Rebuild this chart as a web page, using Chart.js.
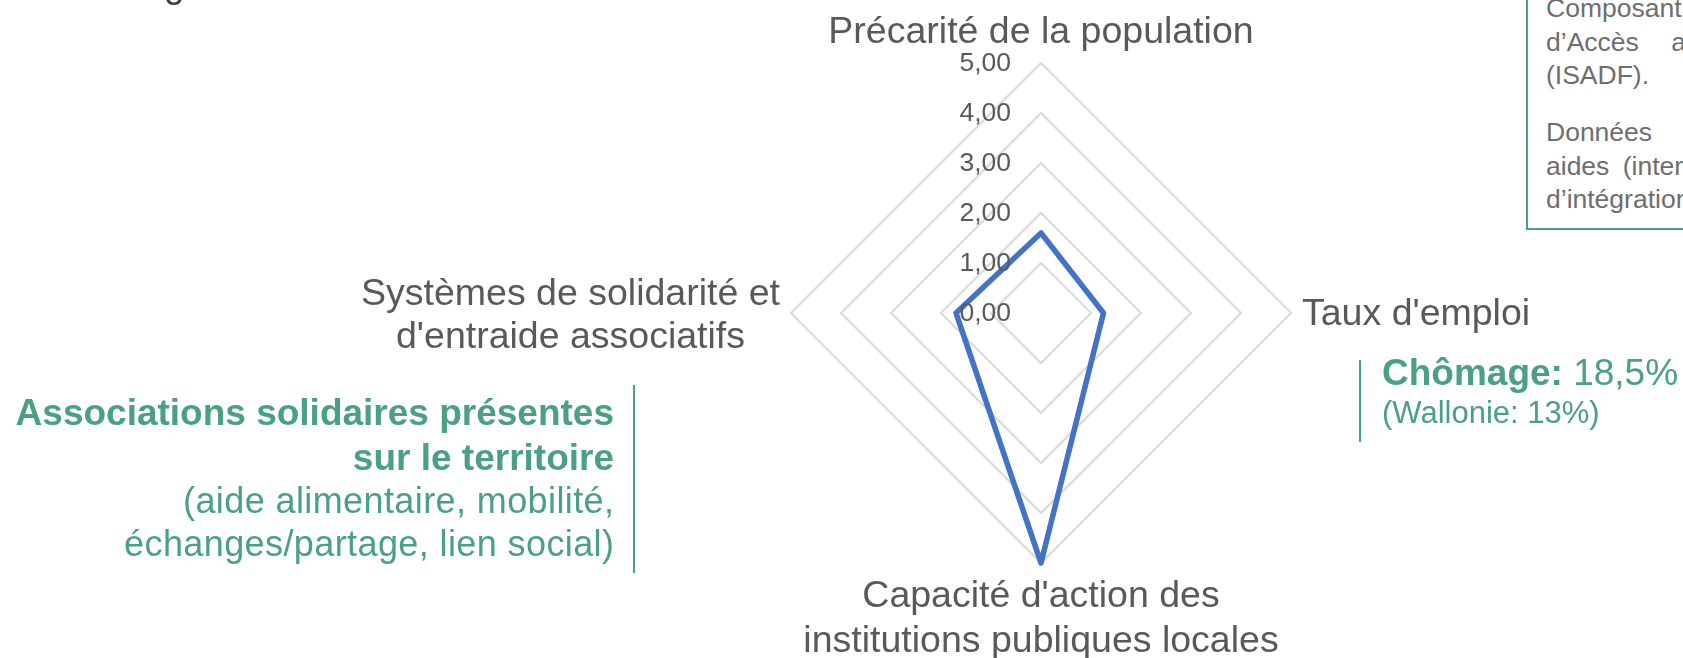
<!DOCTYPE html>
<html lang="fr">
<head>
<meta charset="utf-8">
<title>Radar</title>
<script src="https://cdn.jsdelivr.net/npm/chart.js@4.4.1/dist/chart.umd.min.js"></script>
<style>
  html, body { margin: 0; padding: 0; background: #fff; }
  body { position: relative; width: 1683px; height: 658px; overflow: hidden; font-family: "Liberation Sans", Arial, sans-serif; }
  #c { position: absolute; left: 0; top: 0; }
  .t { position: absolute; white-space: nowrap; line-height: 1; }
  .green { color: #4a9f86; }
  .vline { position: absolute; width: 2px; background: #4a9f86; }
  .box { position: absolute; border: 2px solid #4a9f86; background: #fff; }
  .boxt { position: absolute; white-space: nowrap; line-height: 1; color: #6e6e6e; font-size: 26.5px; left: 1546px; }
</style>
</head>
<body>
<canvas id="c" width="1683" height="658"></canvas>

<!-- cut-off heading letter at top-left -->
<div class="t" style="left:164px;top:-34px;font-size:37px;color:#404040;">g</div>

<!-- top-right box -->
<div class="box" style="left:1526px;top:-40px;width:400px;height:266px;"></div>
<div class="boxt" style="top:-5.5px;">Composant</div>
<div class="boxt" style="top:28.5px;word-spacing:25px;">d’Accès a</div>
<div class="boxt" style="top:61.5px;">(ISADF).</div>
<div class="boxt" style="top:118.5px;word-spacing:24px;">Données s</div>
<div class="boxt" style="top:152.5px;word-spacing:6px;">aides (inter</div>
<div class="boxt" style="top:185.5px;">d’intégration</div>

<!-- left annotation -->
<div class="vline" style="left:633px;top:385px;height:188px;"></div>
<div class="t green" style="right:1069px;top:393.7px;font-size:37px;font-weight:bold;text-align:right;">Associations solidaires présentes</div>
<div class="t green" style="right:1069px;top:438.7px;font-size:37px;font-weight:bold;text-align:right;">sur le territoire</div>
<div class="t green" style="right:1068.6px;top:483px;font-size:36px;letter-spacing:0.4px;text-align:right;">(aide alimentaire, mobilité,</div>
<div class="t green" style="right:1068.6px;top:525.5px;font-size:36px;letter-spacing:0.4px;text-align:right;">échanges/partage, lien social)</div>

<!-- right annotation -->
<div class="vline" style="left:1359px;top:360px;height:82px;"></div>
<div class="t green" style="left:1382px;top:353.7px;font-size:37px;"><b>Chômage:</b> 18,5%</div>
<div class="t green" style="left:1382px;top:396.8px;font-size:31px;">(Wallonie: 13%)</div>

<script>
// ---- data ----
const categories = [
  ["Précarité de la population"],
  ["Taux d'emploi"],
  ["Capacité d'action des", "institutions publiques locales"],
  ["Systèmes de solidarité et", "d'entraide associatifs"]
];
const scores = [1.6, 1.25, 5.0, 1.7];
const tickLabels = ["0,00", "1,00", "2,00", "3,00", "4,00", "5,00"];
const axisMin = 0;
const axisMax = 5;

// ---- custom label drawing (uses the radial scale's own geometry) ----
const labelPlugin = {
  id: 'excelLabels',
  afterDraw(chart) {
    const s = chart.scales.r;
    const ctx = chart.ctx;
    ctx.save();

    // tick labels, left of the vertical axis
    ctx.font = '26.5px "Liberation Sans", Arial, sans-serif';
    ctx.fillStyle = '#595959';
    ctx.textAlign = 'right';
    ctx.textBaseline = 'middle';
    s.ticks.forEach((t, i) => {
      const d = s.getDistanceFromCenterForValue(t.value);
      ctx.fillText(tickLabels[i], s.xCenter - 30, s.yCenter - d + 1);
    });

    // point labels
    ctx.font = '37.5px "Liberation Sans", Arial, sans-serif';
    ctx.fillStyle = '#595959';
    ctx.textBaseline = 'alphabetic';
    categories.forEach((lines, i) => {
      const p = s.getPointPositionForValue(i, axisMax);
      if (i === 0) {
        ctx.textAlign = 'center';
        lines.forEach((ln, k) => ctx.fillText(ln, p.x, p.y - 20 - (lines.length - 1 - k) * 43));
      } else if (i === 1) {
        ctx.textAlign = 'left';
        lines.forEach((ln, k) => ctx.fillText(ln, p.x + 11, p.y + 12 + k * 43));
      } else if (i === 2) {
        ctx.textAlign = 'center';
        lines.forEach((ln, k) => ctx.fillText(ln, p.x, p.y + 44 + k * 45));
      } else {
        const w = Math.max(...lines.map(l => ctx.measureText(l).width));
        const cx = p.x - 11 - w / 2;
        ctx.textAlign = 'center';
        lines.forEach((ln, k) => ctx.fillText(ln, cx, p.y - 8 + k * 43));
      }
    });
    ctx.restore();
  }
};

new Chart(document.getElementById('c'), {
  type: 'radar',
  data: {
    labels: categories,
    datasets: [{
      data: scores,
      borderColor: '#4472C4',
      borderWidth: 5.5,
      borderJoinStyle: 'round',
      fill: false,
      pointRadius: 0,
      pointHoverRadius: 0,
      tension: 0
    }]
  },
  options: {
    responsive: false,
    animation: false,
    events: [],
    layout: { padding: { left: 791, right: 392, top: 63, bottom: 95 } },
    plugins: { legend: { display: false }, tooltip: { enabled: false } },
    scales: {
      r: {
        min: axisMin,
        max: axisMax,
        ticks: { display: false, stepSize: 1 },
        grid: { color: '#d9d9d9', lineWidth: 2 },
        angleLines: { display: false },
        pointLabels: { display: false }
      }
    }
  },
  plugins: [labelPlugin]
});
</script>
</body>
</html>
